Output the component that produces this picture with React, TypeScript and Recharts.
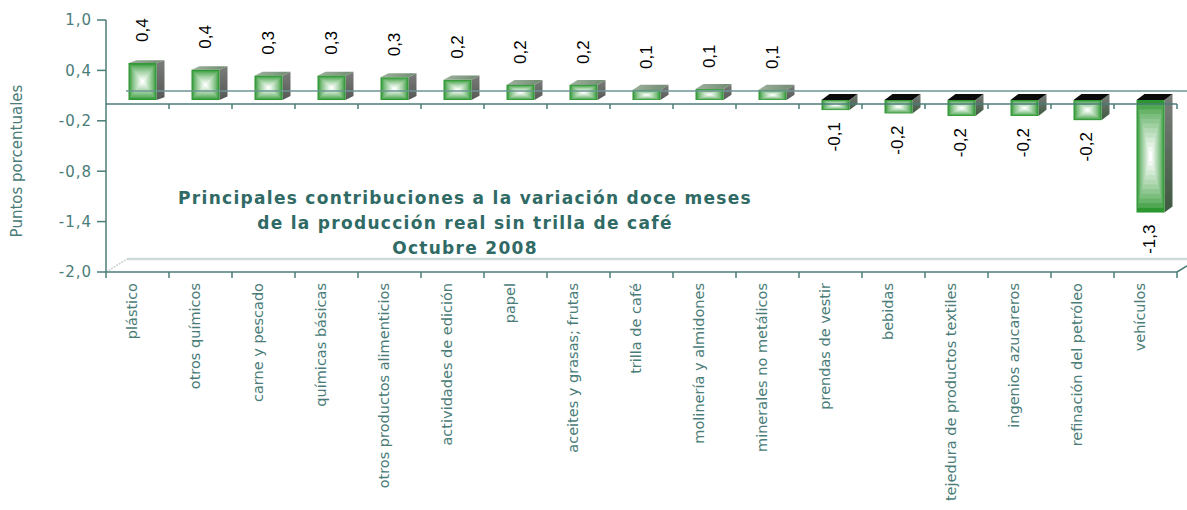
import React from 'react';
import { BarChart, Bar, XAxis, YAxis, ReferenceLine, Customized } from 'recharts';

const categories = [
  'plástico',
  'otros químicos',
  'carne y pescado',
  'químicas básicas',
  'otros productos alimenticios',
  'actividades de edición',
  'papel',
  'aceites y grasas; frutas',
  'trilla de café',
  'molinería y almidones',
  'minerales no metálicos',
  'prendas de vestir',
  'bebidas',
  'tejedura de productos textiles',
  'ingenios azucareros',
  'refinación del petróleo',
  'vehículos',
];
const contributions = [0.44, 0.36, 0.29, 0.29, 0.27, 0.24, 0.18, 0.18, 0.12, 0.13, 0.12, -0.12, -0.16, -0.19, -0.19, -0.24, -1.34];
const yTicks = [1.0, 0.4, -0.2, -0.8, -1.4, -2.0];
const titleLines = [
  'Principales contribuciones a la variación doce meses',
  'de la producción real sin trilla de café',
  'Octubre 2008',
];
const yAxisTitle = 'Puntos porcentuales';

const data = categories.map((name, i) => ({ name, value: contributions[i] }));

const AXIS = '#4b7d79';
const TEXT = '#4a7c78';
const TITLE = '#2f6a65';
const FONT = 'DejaVu Sans';

const fmt = (v: number) => v.toFixed(1).replace('.', ',').replace('-0,0', '0,0');

const GREEN = [44, 150, 48];
const mixWhite = (t: number) => {
  const c = GREEN.map((g) => Math.round(g + (255 - g) * t));
  return `rgb(${c[0]},${c[1]},${c[2]})`;
};

const Box3D = (props: any) => {
  const { x, y, width, height, payload, index } = props;
  if (x == null || y == null) return null;
  const v: number = payload.value;
  const top = Math.min(y, y + height);
  const bottom = Math.max(y, y + height);
  const fw = 28;
  const x0 = x + width / 2 - fw / 2 + 5;
  const y0 = top - 4;
  const y1 = bottom - 4;
  const h = Math.max(1, y1 - y0);
  const dx = 8;
  const dy = -Math.max(2.5, (y0 - 30) / 11.5);
  const n = 12;
  const rects = [] as any[];
  for (let i = 0; i < n; i++) {
    const ix = (i * fw) / 2 / n;
    const iy = (i * h) / 2 / n;
    const t = Math.pow(i / (n - 1), 0.75);
    rects.push(
      <rect key={i} x={x0 + ix} y={y0 + iy} width={Math.max(0, fw - 2 * ix)} height={Math.max(0, h - 2 * iy)} fill={mixWhite(t)} />
    );
  }
  const sideId = `side-${index}`;
  const topId = `top-${index}`;
  const cx = x0 + fw / 2;
  return (
    <g>
      <defs>
        <linearGradient id={sideId} x1="0" y1="0" x2="0" y2="1">
          <stop offset="0%" stopColor="#7b7d7b" />
          <stop offset="100%" stopColor={v < 0 ? '#3e5a40' : '#555855'} />
        </linearGradient>
        <linearGradient id={topId} x1="0" y1="0" x2="1" y2="0">
          <stop offset="0%" stopColor="#9fb09f" />
          <stop offset="100%" stopColor="#6f8c70" />
        </linearGradient>
      </defs>
      <polygon
        points={`${x0 + fw},${y0} ${x0 + fw + dx},${y0 + dy} ${x0 + fw + dx},${y1 + dy} ${x0 + fw},${y1}`}
        fill={`url(#${sideId})`}
      />
      <polygon
        points={`${x0},${y0} ${x0 + dx},${y0 + dy} ${x0 + fw + dx},${y0 + dy} ${x0 + fw},${y0}`}
        fill={v < 0 ? '#0b0b0b' : `url(#${topId})`}
      />
      {rects}
      {v >= 0 ? (
        <text
          transform={`translate(${cx},${y0 - 21}) rotate(-90)`}
          textAnchor="start"
          dominantBaseline="central"
          fontSize={17}
          fontFamily="Liberation Sans"
          fill="#000"
        >
          {fmt(v)}
        </text>
      ) : (
        <text
          transform={`translate(${cx - 1},${y1 + 12}) rotate(-90)`}
          textAnchor="end"
          dominantBaseline="central"
          fontSize={17}
          fontFamily="Liberation Sans"
          fill="#000"
        >
          {fmt(v)}
        </text>
      )}
    </g>
  );
};

const CatTick = (props: any) => {
  const { x, y, payload } = props;
  return (
    <text
      transform={`translate(${x - 5.5},${y + 3}) rotate(-90)`}
      textAnchor="end"
      dominantBaseline="central"
      fontSize={14.5}
      fontFamily={FONT}
      fill={TEXT}
    >
      {payload.value}
    </text>
  );
};

const ZeroPlane = (props: any) => {
  const { x1, y1, x2 } = props;
  if (x1 == null) return null;
  const n = categories.length;
  const step = (x2 - x1) / n;
  const ticks = [] as any[];
  for (let k = 1; k <= n; k++) {
    const tx = x1 + k * step;
    ticks.push(<line key={k} x1={tx} x2={tx} y1={y1} y2={y1 + 5} stroke={AXIS} strokeWidth={1.5} />);
  }
  return (
    <g>
      <line x1={x1 + 20} x2={x2 + 10} y1={y1 - 13} y2={y1 - 13} stroke="#6d9593" strokeWidth={1.5} />
      <line x1={x1} x2={x2} y1={y1} y2={y1} stroke={AXIS} strokeWidth={1.5} />
      {ticks}
    </g>
  );
};

const FloorPlane = (props: any) => {
  const { x1, y1, x2 } = props;
  if (x1 == null) return null;
  const n = categories.length;
  const step = (x2 - x1) / n;
  const ticks = [] as any[];
  for (let k = 0; k <= n; k++) {
    const tx = x1 + k * step;
    ticks.push(<line key={k} x1={tx} x2={tx} y1={y1} y2={y1 + 6} stroke={AXIS} strokeWidth={1.5} />);
  }
  return (
    <g>
      <line x1={x1 + 21} x2={x2 + 10} y1={y1 - 13} y2={y1 - 13} stroke="#ccdad9" strokeWidth={2.5} />
      <line x1={x1} y1={y1} x2={x1 + 21} y2={y1 - 13} stroke="#c9d3d2" strokeWidth={1.5} strokeDasharray="2 1" />
      <line x1={x2} y1={y1} x2={x2 + 10} y2={y1 - 6} stroke={AXIS} strokeWidth={1.5} />
      {ticks}
    </g>
  );
};

const TitleBlock = () => (
  <g>
    {titleLines.map((t, i) => (
      <text
        key={i}
        x={465}
        y={204 + i * 25}
        textAnchor="middle"
        fontSize={17}
        fontWeight="bold"
        fontFamily={FONT}
        letterSpacing={1.3}
        fill={TITLE}
      >
        {t}
      </text>
    ))}
    <text
      transform="translate(17,161) rotate(-90)"
      textAnchor="middle"
      dominantBaseline="central"
      fontSize={15}
      fontFamily={FONT}
      fill={TEXT}
    >
      {yAxisTitle}
    </text>
  </g>
);

export default function App() {
  return (
    <div style={{ position: 'absolute', left: 0, top: 0, width: 1187, height: 510, background: '#fff' }}>
      <BarChart width={1187} height={510} data={data} margin={{ top: 20, right: 10, bottom: 0, left: 0 }} barCategoryGap={0}>
        <XAxis
          dataKey="name"
          interval={0}
          height={238}
          tick={<CatTick />}
          tickLine={false}
          axisLine={{ stroke: AXIS, strokeWidth: 1.5 }}
        />
        <YAxis
          width={106}
          domain={[-2, 1]}
          ticks={yTicks}
          interval={0}
          tickFormatter={fmt}
          tickSize={9}
          tickMargin={5}
          tickLine={{ stroke: AXIS, strokeWidth: 1.5 }}
          axisLine={{ stroke: AXIS, strokeWidth: 1.5 }}
          tick={{ fill: TEXT, fontSize: 15, fontFamily: FONT, letterSpacing: 1 }}
        />
        <ReferenceLine y={-2} shape={<FloorPlane />} />
        <ReferenceLine y={0} shape={<ZeroPlane />} />
        <Bar dataKey="value" isAnimationActive={false} shape={<Box3D />} />
        <Customized component={TitleBlock} />
      </BarChart>
    </div>
  );
}
